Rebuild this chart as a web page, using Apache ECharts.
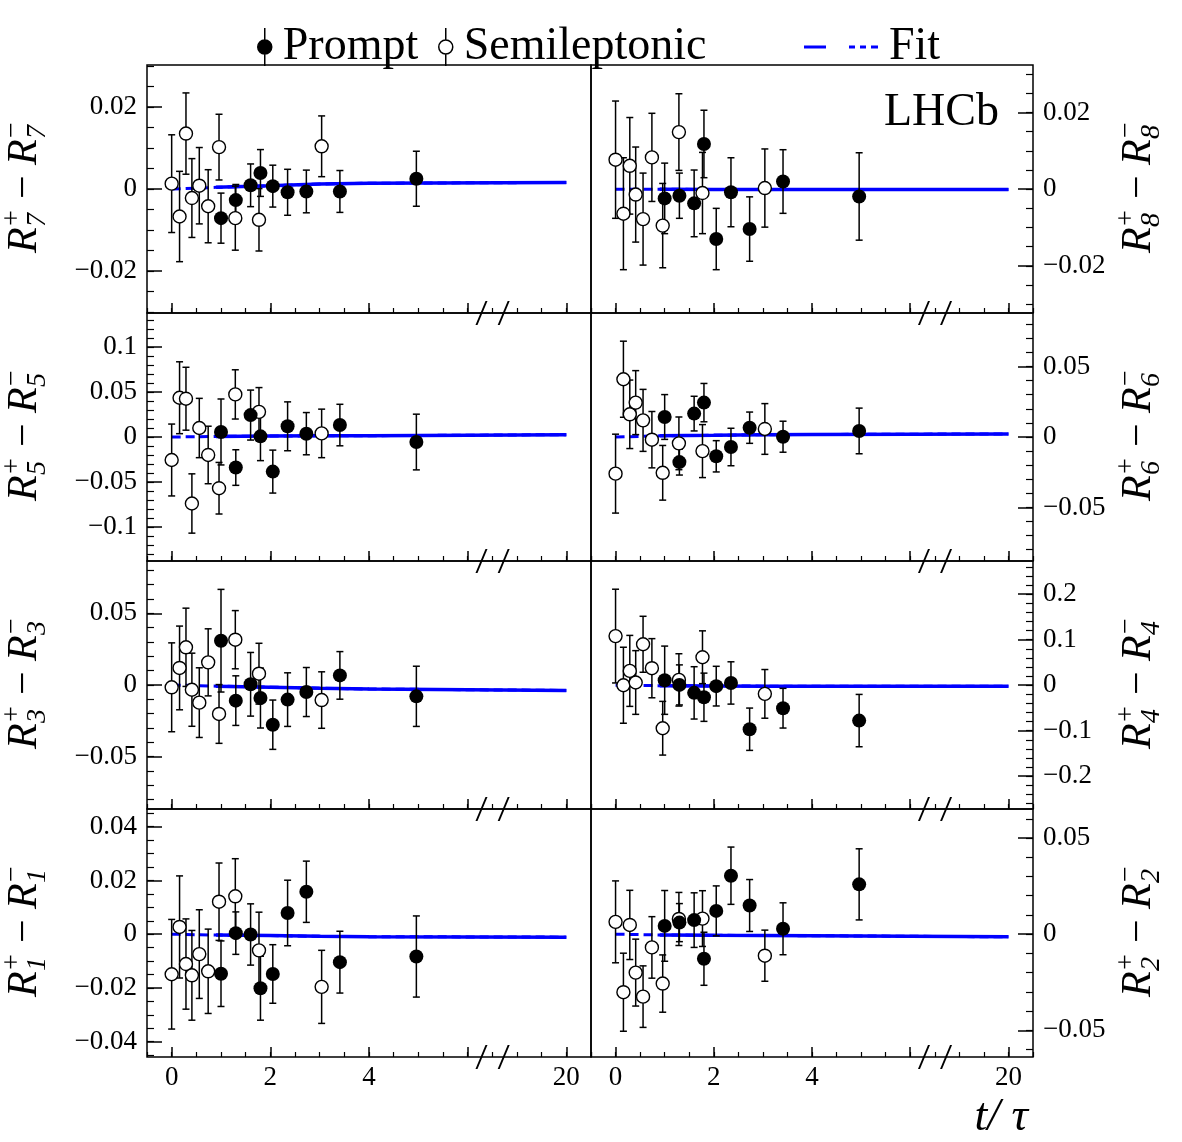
<!DOCTYPE html>
<html>
<head>
<meta charset="utf-8">
<script src="https://cdn.jsdelivr.net/npm/echarts@6/dist/echarts.min.js"></script>
<style>
  html, body { margin: 0; padding: 0; background: #fff; }
  #chart { width: 1182px; height: 1142px; }
</style>
</head>
<body>
<div id="chart"></div>
<script>
// decay-time bins, t / tau
const T_PROMPT = [1.0, 1.3, 1.6, 1.8, 2.05, 2.35, 2.73, 3.41, 4.96]
const T_SEMI = [0.0, 0.16, 0.29, 0.41, 0.56, 0.74, 0.96, 1.29, 1.77, 3.04]
const T_FIT = [0, 0.9, 2, 3, 4, 4, 20]
const X_TICKS = [0, 2, 4, 20]

const R1_PROMPT = [-0.0147, 0.0004, -0.0001, -0.0201, -0.0148, 0.0079, 0.0158, -0.0104, -0.0083]
const R1_PROMPT_ERR = [0.0122, 0.0079, 0.0114, 0.0119, 0.0109, 0.0122, 0.0114, 0.0115, 0.0151]
const R1_SEMI = [-0.0149, 0.0027, -0.0111, -0.0153, -0.0074, -0.0138, 0.0121, 0.0141, -0.006, -0.0196]
const R1_SEMI_ERR = [0.0204, 0.019, 0.0168, 0.0167, 0.0165, 0.0157, 0.0144, 0.014, 0.0142, 0.0136]
const R1_FIT = [0, -0.0003, -0.0005, -0.0008, -0.0009, -0.0011, -0.0011]

const R2_PROMPT = [0.0043, 0.006, 0.0073, -0.0128, 0.0121, 0.0304, 0.0149, 0.0028, 0.0259]
const R2_PROMPT_ERR = [0.0184, 0.0099, 0.0142, 0.0138, 0.013, 0.0149, 0.0135, 0.0135, 0.0185]
const R2_SEMI = [0.0064, -0.0302, 0.0048, -0.02, -0.0325, -0.0069, -0.0257, 0.0079, 0.0081, -0.0112]
const R2_SEMI_ERR = [0.0213, 0.0203, 0.018, 0.0174, 0.016, 0.016, 0.0149, 0.0138, 0.0145, 0.0133]
const R2_FIT = [0, -0.0004, -0.0006, -0.0007, -0.0008, -0.0014, -0.0014]

const R3_PROMPT = [0.0309, -0.0109, 0.0005, -0.0091, -0.0277, -0.0102, -0.0049, 0.0067, -0.0079]
const R3_PROMPT_ERR = [0.0358, 0.0173, 0.0222, 0.0209, 0.0172, 0.0187, 0.0171, 0.0166, 0.021]
const R3_SEMI = [-0.0016, 0.0119, 0.0263, -0.0033, -0.0123, 0.0158, -0.0202, 0.0316, 0.0079, -0.0105]
const R3_SEMI_ERR = [0.031, 0.0292, 0.0273, 0.0255, 0.0243, 0.0234, 0.0205, 0.0203, 0.0212, 0.0197]
const R3_FIT = [0, -0.0008, -0.0015, -0.0022, -0.0028, -0.0038, -0.0038]

const R4_PROMPT = [0.011, 0.0007, -0.0168, -0.0264, -0.002, 0.005, -0.0967, -0.0505, -0.0777]
const R4_PROMPT_ERR = [0.075, 0.044, 0.0575, 0.053, 0.0436, 0.0465, 0.0465, 0.0436, 0.0575]
const R4_SEMI = [0.108, 0.0, 0.0315, 0.006, 0.09, 0.0374, -0.0945, 0.0117, 0.0615, -0.019]
const R4_SEMI_ERR = [0.103, 0.0835, 0.078, 0.07, 0.0615, 0.065, 0.059, 0.0575, 0.058, 0.0535]
const R4_FIT = [0, -0.001, -0.0015, -0.002, -0.002, -0.002, -0.002]

const R5_PROMPT = [0.0056, -0.034, 0.0244, 0.0007, -0.0385, 0.0119, 0.0037, 0.0133, -0.0056]
const R5_PROMPT_ERR = [0.0367, 0.0198, 0.0278, 0.027, 0.0239, 0.0272, 0.0235, 0.0231, 0.031]
const R5_SEMI = [-0.0256, 0.0437, 0.0426, -0.074, 0.01, -0.02, -0.057, 0.0474, 0.028, 0.004]
const R5_SEMI_ERR = [0.04, 0.04, 0.035, 0.033, 0.033, 0.032, 0.0287, 0.0274, 0.027, 0.027]
const R5_FIT = [0, 0.0006, 0.0011, 0.0013, 0.0014, 0.0026, 0.0026]

const R6_PROMPT = [0.0142, -0.0178, 0.0166, 0.0244, -0.0137, -0.0071, 0.0066, 0.0002, 0.0043]
const R6_PROMPT_ERR = [0.0159, 0.0092, 0.0123, 0.0136, 0.0111, 0.0133, 0.0111, 0.011, 0.0162]
const R6_SEMI = [-0.026, 0.041, 0.0161, 0.0244, 0.0118, -0.0019, -0.0254, -0.0045, -0.01, 0.0057]
const R6_SEMI_ERR = [0.028, 0.027, 0.0243, 0.0227, 0.022, 0.02, 0.0194, 0.0187, 0.0188, 0.018]
const R6_FIT = [0, 0.0008, 0.0012, 0.0016, 0.0018, 0.0022, 0.0022]

const R7_PROMPT = [-0.0071, -0.0027, 0.0009, 0.0039, 0.0007, -0.0008, -0.0006, -0.0006, 0.0025]
const R7_PROMPT_ERR = [0.0061, 0.0038, 0.0052, 0.0057, 0.0051, 0.0056, 0.0052, 0.0051, 0.0067]
const R7_SEMI = [0.0013, -0.0067, 0.0135, -0.0022, 0.0008, -0.0042, 0.0102, -0.0071, -0.0075, 0.0104]
const R7_SEMI_ERR = [0.0119, 0.011, 0.0099, 0.0096, 0.0093, 0.0089, 0.008, 0.0078, 0.0076, 0.0074]
const R7_FIT = [0, 0.0004, 0.0008, 0.0012, 0.0014, 0.0016, 0.0016]

const R8_PROMPT = [-0.0024, -0.0017, -0.0037, 0.0118, -0.013, -0.0008, -0.0104, 0.002, -0.0019]
const R8_PROMPT_ERR = [0.0092, 0.0059, 0.0087, 0.0088, 0.008, 0.009, 0.0084, 0.0083, 0.0114]
const R8_SEMI = [0.0077, -0.0064, 0.0061, -0.0014, -0.0078, 0.0083, -0.0095, 0.0149, -0.001, 0.0003]
const R8_SEMI_ERR = [0.0153, 0.0146, 0.0126, 0.0124, 0.012, 0.0115, 0.011, 0.01, 0.0106, 0.0102]
const R8_FIT = [0, 0, -0.0001, -0.0001, -0.0001, -0.0001, -0.0001]

// panel layout: row, column, y range, labelled ticks, minor tick step
const PANELS = [
  { n: '7', row: 0, col: 0, p: R7_PROMPT, pe: R7_PROMPT_ERR, s: R7_SEMI, se: R7_SEMI_ERR, fit: R7_FIT, min: -0.0302, max: 0.0302, labels: [-0.02, 0, 0.02], minor: 0.005 },
  { n: '8', row: 0, col: 1, p: R8_PROMPT, pe: R8_PROMPT_ERR, s: R8_SEMI, se: R8_SEMI_ERR, fit: R8_FIT, min: -0.0323, max: 0.0324, labels: [-0.02, 0, 0.02], minor: 0.005 },
  { n: '5', row: 1, col: 0, p: R5_PROMPT, pe: R5_PROMPT_ERR, s: R5_SEMI, se: R5_SEMI_ERR, fit: R5_FIT, min: -0.138, max: 0.138, labels: [-0.1, -0.05, 0, 0.05, 0.1], minor: 0.01 },
  { n: '6', row: 1, col: 1, p: R6_PROMPT, pe: R6_PROMPT_ERR, s: R6_SEMI, se: R6_SEMI_ERR, fit: R6_FIT, min: -0.088, max: 0.088, labels: [-0.05, 0, 0.05], minor: 0.01 },
  { n: '3', row: 2, col: 0, p: R3_PROMPT, pe: R3_PROMPT_ERR, s: R3_SEMI, se: R3_SEMI_ERR, fit: R3_FIT, min: -0.0865, max: 0.0865, labels: [-0.05, 0, 0.05], minor: 0.01 },
  { n: '4', row: 2, col: 1, p: R4_PROMPT, pe: R4_PROMPT_ERR, s: R4_SEMI, se: R4_SEMI_ERR, fit: R4_FIT, min: -0.272, max: 0.273, labels: [-0.2, -0.1, 0, 0.1, 0.2], minor: 0.02 },
  { n: '1', row: 3, col: 0, p: R1_PROMPT, pe: R1_PROMPT_ERR, s: R1_SEMI, se: R1_SEMI_ERR, fit: R1_FIT, min: -0.0457, max: 0.0466, labels: [-0.04, -0.02, 0, 0.02, 0.04], minor: 0.005 },
  { n: '2', row: 3, col: 1, p: R2_PROMPT, pe: R2_PROMPT_ERR, s: R2_SEMI, se: R2_SEMI_ERR, fit: R2_FIT, min: -0.0639, max: 0.0651, labels: [-0.05, 0, 0.05], minor: 0.01 },
]

const FONT = '"Liberation Serif", "Times New Roman", serif'
const BLUE = '#0000ff'
const GRID_LEFT = [147, 591]
const GRID_WIDTH = [444, 442]
const ROW_TOP = [65, 313, 561, 809]
const ROW_H = 248
const BREAK_AT = [6.28, 6.73]

// broken time axis: everything above 6 is squeezed so that t = 20 sits at 8
const tx = (t) => (t <= 6 ? t : 6 + (t - 6) / 7)

function stepTicks(min, max, step) {
  const out = []
  for (let k = Math.ceil(min / step - 1e-9); k * step <= max + 1e-12; k++) out.push(+(k * step).toFixed(6))
  return out
}
function fmt(v) {
  if (Math.abs(v) < 1e-9) return '0'
  const s = String(+Math.abs(v).toFixed(3))
  return v < 0 ? '\u2212' + s : s
}

function errorBars(xIdx, yIdx, data, z) {
  return {
    type: 'custom',
    xAxisIndex: xIdx,
    yAxisIndex: yIdx,
    silent: true,
    z: z,
    data: data,
    renderItem: (params, api) => {
      const x = api.value(0)
      const y = api.value(1)
      const e = api.value(2)
      const top = api.coord([x, y + e])
      const bot = api.coord([x, y - e])
      const st = { stroke: '#000', lineWidth: 1.5 }
      return {
        type: 'group',
        children: [
          { type: 'line', shape: { x1: top[0], y1: top[1], x2: bot[0], y2: bot[1] }, style: st },
          { type: 'line', shape: { x1: top[0] - 3.5, y1: top[1], x2: top[0] + 3.5, y2: top[1] }, style: st },
          { type: 'line', shape: { x1: bot[0] - 3.5, y1: bot[1], x2: bot[0] + 3.5, y2: bot[1] }, style: st },
        ],
      }
    },
  }
}

const noLine = { show: false, onZero: false }
const grid = []
const xAxis = []
const yAxis = []
const series = []

PANELS.forEach((p, i) => {
  const left = p.col === 0
  const xi = 2 * i
  const yi = 2 * i
  grid.push({
    left: GRID_LEFT[p.col],
    top: ROW_TOP[p.row],
    width: GRID_WIDTH[p.col],
    height: ROW_H,
    show: true,
    borderColor: '#000',
    borderWidth: 1.5,
  })
  xAxis.push({
    gridIndex: i,
    type: 'value',
    position: 'bottom',
    min: -0.5,
    max: 8.5,
    axisLine: noLine,
    splitLine: { show: false },
    axisTick: { inside: true, length: 10, customValues: [0, 2, 4, 6, 8], lineStyle: { color: '#000', width: 1.5 } },
    axisLabel: {
      show: p.row === 3,
      customValues: X_TICKS.map(tx),
      formatter: (v) => String(X_TICKS[X_TICKS.map(tx).indexOf(v)]),
      fontFamily: FONT,
      fontSize: 27,
      color: '#000',
      margin: 7,
    },
  })
  xAxis.push({
    gridIndex: i,
    type: 'value',
    position: 'bottom',
    min: -0.5,
    max: 8.5,
    interval: 0.5,
    axisLine: noLine,
    splitLine: { show: false },
    axisTick: { inside: true, length: 5, lineStyle: { color: '#000', width: 1.2 } },
    axisLabel: { show: false },
  })
  yAxis.push({
    gridIndex: i,
    type: 'value',
    position: left ? 'left' : 'right',
    min: p.min,
    max: p.max,
    axisLine: noLine,
    splitLine: { show: false },
    axisTick: { inside: true, length: 15, customValues: p.labels, lineStyle: { color: '#000', width: 1.5 } },
    axisLabel: {
      customValues: p.labels,
      formatter: fmt,
      fontFamily: FONT,
      fontSize: 27,
      color: '#000',
      margin: 10,
    },
  })
  yAxis.push({
    gridIndex: i,
    type: 'value',
    position: left ? 'left' : 'right',
    offset: 0,
    min: p.min,
    max: p.max,
    axisLine: noLine,
    splitLine: { show: false },
    axisTick: { inside: true, length: 7, customValues: stepTicks(p.min, p.max, p.minor), lineStyle: { color: '#000', width: 1.2 } },
    axisLabel: { show: false },
  })

  // fit curves: semileptonic dashed over the full range, prompt solid from t ~ 1
  series.push({
    name: 'Fit',
    type: 'line',
    xAxisIndex: xi,
    yAxisIndex: yi,
    silent: true,
    showSymbol: false,
    z: 2,
    data: T_FIT.slice(1).map((t, k) => [tx(t), p.fit[k + 1]]),
    lineStyle: { color: BLUE, width: 3.5 },
  })
  series.push({
    name: 'Fit',
    type: 'line',
    xAxisIndex: xi,
    yAxisIndex: yi,
    silent: true,
    showSymbol: false,
    z: 3,
    data: T_FIT.map((t, k) => [tx(t), p.fit[k]]),
    lineStyle: { color: BLUE, width: 3, type: [9, 5] },
  })
  series.push(errorBars(xi, yi, T_SEMI.map((t, k) => [tx(t), p.s[k], p.se[k]]), 4))
  series.push(errorBars(xi, yi, T_PROMPT.map((t, k) => [tx(t), p.p[k], p.pe[k]]), 4))
  series.push({
    name: 'Semileptonic',
    type: 'scatter',
    xAxisIndex: xi,
    yAxisIndex: yi,
    silent: true,
    z: 5,
    symbolSize: 13,
    data: T_SEMI.map((t, k) => [tx(t), p.s[k]]),
    itemStyle: { color: '#fff', borderColor: '#000', borderWidth: 1.4, opacity: 1 },
  })
  series.push({
    name: 'Prompt',
    type: 'scatter',
    xAxisIndex: xi,
    yAxisIndex: yi,
    silent: true,
    z: 5,
    symbolSize: 14,
    data: T_PROMPT.map((t, k) => [tx(t), p.p[k]]),
    itemStyle: { color: '#000', opacity: 1 },
  })
  // axis break marks
  series.push({
    type: 'scatter',
    xAxisIndex: xi,
    yAxisIndex: yi,
    silent: true,
    clip: false,
    z: 6,
    symbol: 'path://M10,0 L12,0 L2,24 L0,24 Z',
    symbolSize: [12, 24],
    data: BREAK_AT.map((b) => [b, p.min]),
    itemStyle: { color: '#000', opacity: 1 },
  })
})

function txt(s, x, y, size, italic) {
  return {
    type: 'text',
    x: x,
    y: y,
    style: {
      text: s,
      font: (italic ? 'italic ' : '') + size + 'px ' + FONT,
      fill: '#000',
      verticalAlign: 'middle',
    },
  }
}
function yTitle(n, x, y) {
  return {
    type: 'group',
    x: x,
    y: y,
    rotation: Math.PI / 2,
    children: [
      txt('R', 0, 0, 42, true),
      txt('+', 27, -12, 28, false),
      txt(n, 26, 13, 28, true),
      txt('\u2212', 54, 0, 42, false),
      txt('R', 88, 0, 42, true),
      txt('\u2212', 115, -12, 28, false),
      txt(n, 114, 13, 28, true),
    ],
  }
}

const MARKER = 'path://M7,0 L7,12 M7,26 L7,38 M14,19 A7,7 0 1 1 0,19 A7,7 0 1 1 14,19 Z'
const FIT_ICON = 'path://M0,0 h22 v3 h-22 Z M45,0 h6 v3 h-6 Z M56,0 h6 v3 h-6 Z M67,0 h7 v3 h-7 Z'
const legendText = { fontFamily: FONT, fontSize: 46, color: '#000', padding: [0, 0, 0, 6] }

const option = {
  animation: false,
  backgroundColor: '#fff',
  grid,
  xAxis,
  yAxis,
  series,
  legend: [
    {
      left: 252,
      top: 19,
      selectedMode: false,
      itemWidth: 14,
      itemHeight: 38,
      textStyle: legendText,
      data: [{ name: 'Prompt', icon: MARKER, itemStyle: { color: '#000', borderColor: '#000', borderWidth: 1.5 } }],
    },
    {
      left: 433,
      top: 19,
      selectedMode: false,
      itemWidth: 14,
      itemHeight: 38,
      textStyle: legendText,
      data: [{ name: 'Semileptonic', icon: MARKER, itemStyle: { color: '#fff', borderColor: '#000', borderWidth: 1.5 } }],
    },
    {
      left: 799,
      top: 19,
      selectedMode: false,
      itemWidth: 74,
      itemHeight: 3,
      textStyle: legendText,
      data: [{ name: 'Fit', icon: FIT_ICON, itemStyle: { color: BLUE, borderWidth: 0 } }],
    },
  ],
  graphic: [
    { type: 'text', x: 884, y: 113, style: { text: 'LHCb', font: '46px ' + FONT, fill: '#000', verticalAlign: 'middle' } },
    { type: 'text', x: 1028, y: 1118, style: { text: 't/ \u03c4', font: 'italic 46px ' + FONT, fill: '#000', align: 'right', verticalAlign: 'middle' } },
  ].concat(PANELS.map((p) => yTitle(p.n, p.col === 0 ? 25 : 1139, ROW_TOP[p.row] + 188))),
}

const chart = echarts.init(document.getElementById('chart'))
chart.setOption(option)
</script>
</body>
</html>
